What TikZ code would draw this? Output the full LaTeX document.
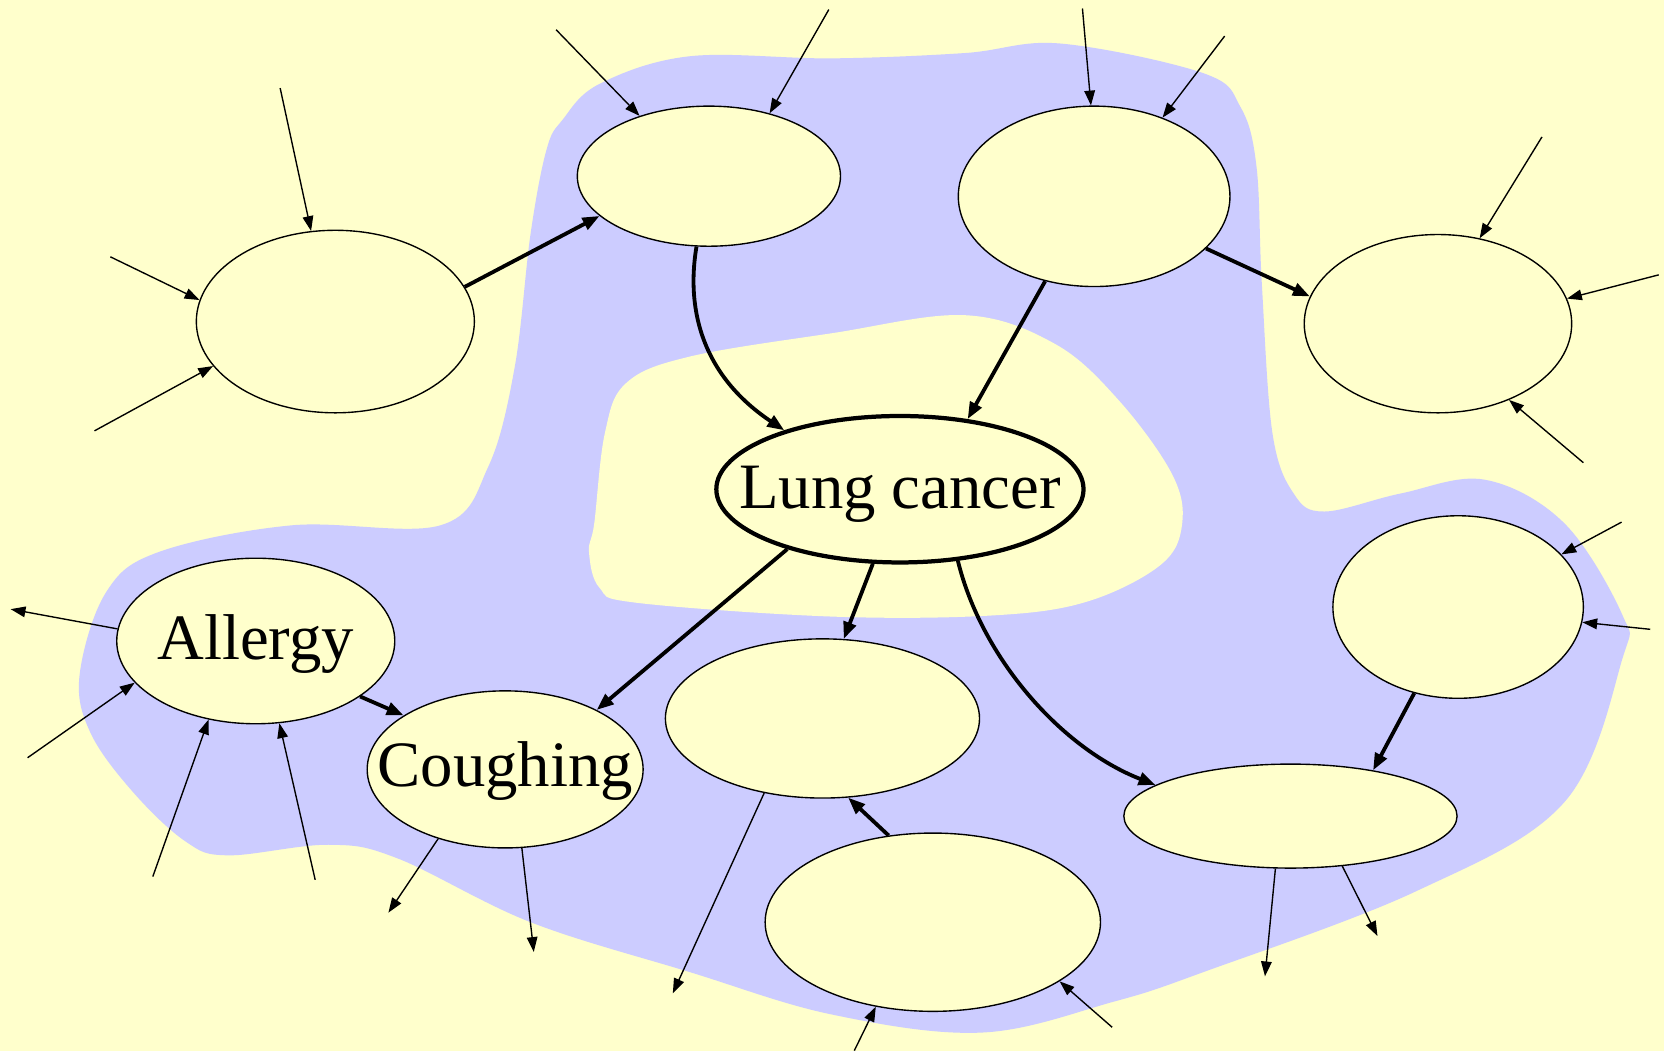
\documentclass[tikz,border=0pt]{standalone}
\usepackage{fontspec}
\setmainfont{Liberation Serif}
\usetikzlibrary{shapes.geometric,arrows.meta}
\definecolor{bgyellow}{HTML}{FFFFCC}
\definecolor{blobblue}{HTML}{CCCCFF}
\newcommand{\lbltext}[2]{\raisebox{-#1pt}[0pt][0pt]{\makebox[0pt]{#2}}}
\begin{document}
\begin{tikzpicture}[x=1pt,y=-1pt,
  var/.style={ellipse,draw,line width=1.3pt,fill=bgyellow,inner sep=0pt},
  thinarr/.style={line width=1.3pt,-{Triangle[length=14pt,width=10pt]}},
  thickarr/.style={line width=3.6pt,-{Triangle[length=16pt,width=12pt]}},
  lbl/.style={font=\fontsize{61}{70}\selectfont}]
\useasboundingbox (0,0) rectangle (1568,990);
\fill[bgyellow] (0,0) rectangle (1568,990);
% blue blob
\fill[blobblue] plot[smooth cycle, tension=0.6] coordinates {
 (650,53) (784,55) (909,50) (999,41) (1134,69) (1169,101) (1184,157)
 (1189,267) (1199,408) (1219,465) (1248,482) (1320,465) (1399,452)
 (1474,493) (1529,580) (1529,620) (1474,756) (1334,840) (1134,916)
 (1049,944) (925,973) (784,956) (650,916) (500,869) (375,809) (310,796)
 (215,806) (175,793) (125,746) (85,690) (75,636) (100,558) (150,520)
 (275,495) (415,495) (460,440) (485,346) (500,220) (515,141) (530,113) (565,79)};
% inner hole
\fill[bgyellow] plot[smooth cycle, tension=0.6] coordinates {
 (784,314) (909,297) (994,324) (1054,377) (1104,446) (1114,493) (1094,532)
 (1024,567) (934,580) (784,581) (600,568) (565,554) (555,520) (560,493)
 (570,408) (590,361) (650,336)};
% nodes
\node[var,minimum width=262pt,minimum height=172pt] (A) at (316,303) {};
\node[var,minimum width=248pt,minimum height=132pt] (B) at (668,166) {};
\node[var,minimum width=256pt,minimum height=170pt] (C) at (1031,185) {};
\node[var,minimum width=252pt,minimum height=168pt] (D) at (1355,305) {};
\node[var,line width=4pt,minimum width=346pt,minimum height=138pt,lbl] (L) at (848,461) {\lbltext{18}{Lung cancer}};
\node[var,minimum width=262pt,minimum height=156pt,lbl] (Al) at (241,604) {\lbltext{17}{Allergy}};
\node[var,minimum width=260pt,minimum height=148pt,lbl] (Co) at (476,725) {\lbltext{16}{Coughing}};
\node[var,minimum width=296pt,minimum height=150pt] (E) at (775,677) {};
\node[var,minimum width=316pt,minimum height=168pt] (F) at (879,869) {};
\node[var,minimum width=236pt,minimum height=172pt] (G) at (1374,572) {};
\node[var,minimum width=314pt,minimum height=98pt] (H) at (1216,769) {};
% free ends
\coordinate (a1) at (264,83);
\coordinate (a2) at (104,242);
\coordinate (a3) at (89,406);
\coordinate (b1) at (524,28);
\coordinate (b2) at (781,9);
\coordinate (c1) at (1020,8);
\coordinate (c2) at (1154,34);
\coordinate (d1) at (1453,129);
\coordinate (d2) at (1563,259);
\coordinate (d3) at (1492,436);
\coordinate (al0) at (10,574);
\coordinate (al1) at (26,714);
\coordinate (al2) at (144,826);
\coordinate (al3) at (297,829);
\coordinate (co1) at (366,860);
\coordinate (co2) at (503,897);
\coordinate (e1) at (634,936);
\coordinate (f1) at (805,990);
\coordinate (f2) at (1048,968);
\coordinate (g1) at (1528,492);
\coordinate (g2) at (1555,593);
\coordinate (h1) at (1192,920);
\coordinate (h2) at (1298,882);
% thin arrows
\draw[thinarr] (a1) -- (A.105);
\draw[thinarr] (a2) -- (A.171);
\draw[thinarr] (a3) -- (A.200);
\draw[thinarr] (b1) -- (B.139.5);
\draw[thinarr] (b2) -- (B.46);
\draw[thinarr] (c1) -- (C.92.7);
\draw[thinarr] (c2) -- (C.49.4);
\draw[thinarr] (d1) -- (D.64.8);
\draw[thinarr] (d2) -- (D.11.4);
\draw[thinarr] (d3) -- (D.313);
\draw[thinarr] (Al.175) -- (al0);
\draw[thinarr] (al1) -- (Al.199.5);
\draw[thinarr] (al2) -- (Al.239.6);
\draw[thinarr] (al3) -- (Al.286.9);
\draw[thinarr] (Co.226.3) -- (co1);
\draw[thinarr] (Co.282.2) -- (co2);
\draw[thinarr] (E.232.7) -- (e1);
\draw[thinarr] (f1) -- (F.236.8);
\draw[thinarr] (f2) -- (F.335.6);
\draw[thinarr] (g1) -- (G.27.7);
\draw[thinarr] (g2) -- (G.353.3);
\draw[thinarr] (H.254) -- (h1);
\draw[thinarr] (H.316) -- (h2);
% thick arrows
\draw[thickarr] (A.15.8) -- (B.200.5);
\draw[thickarr] (B.260.5) .. controls (645,300) and (668,358) .. (L.153);
\draw[thickarr] (C.240.4) -- (L.46.3);
\draw[thickarr] (C.335) -- (D.168.8);
\draw[thickarr] (L.208.5) -- (Co.33.2);
\draw[thickarr] (L.250.4) -- (E.75);
\draw[thickarr] (L.309.6) .. controls (925,620) and (1000,705) .. (H.167.7);
\draw[thickarr] (G.243.4) -- (H.29.7);
\draw[thickarr] (F.117.1) -- (E.288.4);
\draw[thickarr] (Al.332.8) -- (Co.152.2);
\end{tikzpicture}
\end{document}
